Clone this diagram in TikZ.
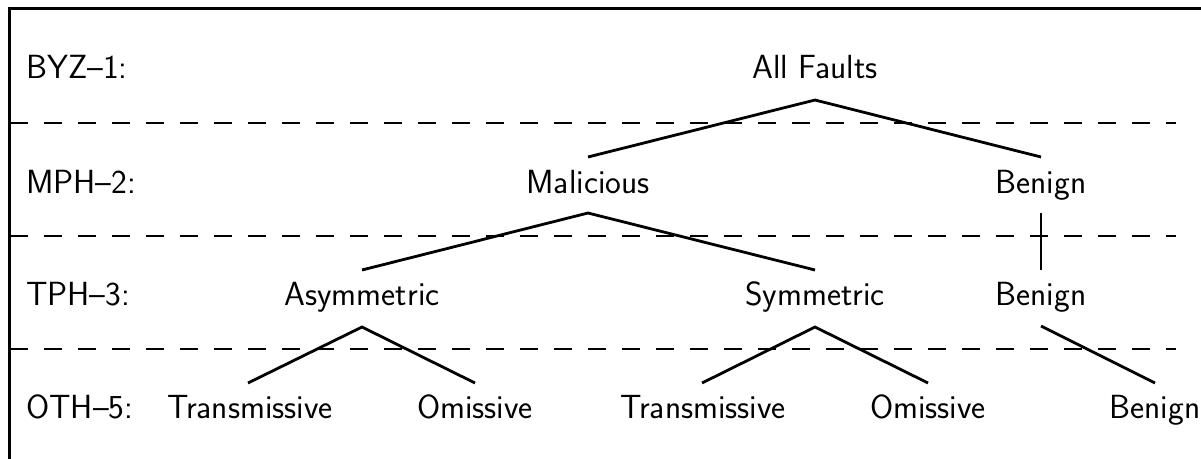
\documentclass[tikz,border=0pt]{standalone}
\begin{document}
\begin{tikzpicture}[x=1pt,y=-1pt,
  lbl/.style={anchor=base, inner sep=0pt, font=\fontsize{33.5}{40}\selectfont\sffamily},
  rowlbl/.style={lbl, anchor=base west},
  edge/.style={line width=2.8pt},
  sep/.style={line width=2.8pt, dash pattern=on 18pt off 16pt},
  frame/.style={line width=3pt}]
\useasboundingbox (0,0) rectangle (1201,458);
% frame
\coordinate (fb) at (9,460);
\coordinate (fc) at (9,8);
\coordinate (fr) at (1203,8);
\draw[frame] (fb) -- (fc) -- (fr);
% separators
\coordinate (s1a) at (10,123); \coordinate (s1b) at (1176,123);
\coordinate (s2a) at (10,236); \coordinate (s2b) at (1176,236);
\coordinate (s3a) at (10,349); \coordinate (s3b) at (1176,349);
\draw[sep] (s1a) -- (s1b);
\draw[sep] (s2a) -- (s2b);
\draw[sep] (s3a) -- (s3b);
% row labels
\node[rowlbl] (r1) at (26,78) {BYZ–1:};
\node[rowlbl] (r2) at (26,193) {MPH–2:};
\node[rowlbl] (r3) at (26,305) {TPH–3:};
\node[rowlbl] (r4) at (26,418) {OTH–5:};
% tree nodes
\node[lbl] (all) at (815,78) {All Faults};
\node[lbl] (mal) at (588,193) {Malicious};
\node[lbl] (ben2) at (1041,193) {Benign};
\node[lbl] (asy) at (362,305) {Asymmetric};
\node[lbl] (sym) at (815,305) {Symmetric};
\node[lbl] (ben3) at (1041,305) {Benign};
\node[lbl] (t1) at (250,418) {Transmissive};
\node[lbl] (o1) at (475,418) {Omissive};
\node[lbl] (t2) at (703,418) {Transmissive};
\node[lbl] (o2) at (928,418) {Omissive};
\node[lbl] (ben4) at (1155,418) {Benign};
% connector end points
\coordinate (allB) at (815,100);
\coordinate (malT) at (588,157);
\coordinate (ben2T) at (1041,157);
\coordinate (malB) at (588,213);
\coordinate (ben2B) at (1041,213);
\coordinate (asyT) at (362,270);
\coordinate (symT) at (815,270);
\coordinate (ben3T) at (1041,270);
\coordinate (asyB) at (362,327);
\coordinate (symB) at (815,327);
\coordinate (ben3B) at (1041,326);
\coordinate (t1T) at (248,383);
\coordinate (o1T) at (475,383);
\coordinate (t2T) at (702,383);
\coordinate (o2T) at (928,383);
\coordinate (ben4T) at (1155,383);
\draw[edge] (malT) -- (allB) -- (ben2T);
\draw[edge] (asyT) -- (malB) -- (symT);
\draw[edge] (ben2B) -- (ben3T);
\draw[edge] (t1T) -- (asyB) -- (o1T);
\draw[edge] (t2T) -- (symB) -- (o2T);
\draw[edge] (ben3B) -- (ben4T);
\end{tikzpicture}
\end{document}
